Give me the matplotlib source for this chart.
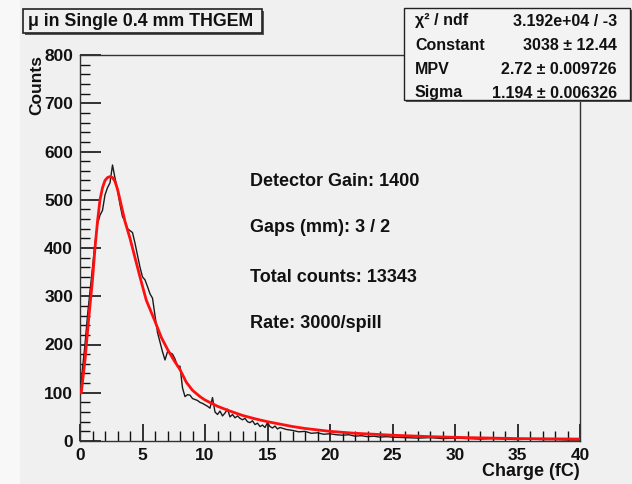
import matplotlib
matplotlib.use("Agg")
import matplotlib.pyplot as plt
from matplotlib.patches import Rectangle
from matplotlib.ticker import MultipleLocator

# ---------------- data ----------------
hist_x = [0.1, 0.2, 0.4, 0.6, 0.8, 1.0, 1.2, 1.4, 1.6, 1.8, 2.0, 2.2, 2.4, 2.6, 2.8,
          3.0, 3.2, 3.4, 3.6, 3.8, 4.0, 4.2, 4.4, 4.6, 4.8, 5.0, 5.2, 5.4, 5.6, 5.8,
          6.0, 6.2, 6.4, 6.6, 6.8, 7.0, 7.2, 7.4, 7.6, 7.8, 8.0, 8.2, 8.4, 8.6, 8.8,
          9.0, 9.2, 9.4, 9.6, 9.8, 10.0, 10.2, 10.4, 10.6, 10.8, 11.0, 11.2, 11.4,
          11.6, 11.8, 12.0, 12.2, 12.4, 12.6, 12.8, 13.0, 13.2, 13.4, 13.6, 13.8,
          14.0, 14.2, 14.4, 14.6, 14.8, 15.0, 15.2, 15.4, 15.6, 15.8, 16.0, 16.5,
          17.0, 17.5, 18.0, 18.5, 19.0, 19.5, 20.0, 20.5, 21.0, 21.5, 22.0, 22.5,
          23.0, 23.5, 24.0, 24.5, 25.0, 26.0, 27.0, 28.0, 29.0, 30.0, 31.0, 32.0,
          33.0, 34.0, 35.0, 36.0, 37.0, 38.0, 39.0, 40.0]
hist_y = [120, 150, 200, 260, 310, 360, 410, 450, 468, 478, 510, 525, 535, 572, 545,
          520, 490, 465, 455, 440, 436, 432, 410, 385, 360, 340, 334, 320, 305, 296,
          260, 225, 205, 185, 168, 185, 183, 180, 170, 155, 155, 110, 92, 96, 95,
          88, 86, 84, 80, 78, 75, 72, 68, 90, 60, 55, 62, 52,
          58, 66, 50, 55, 48, 52, 47, 44, 47, 40, 38, 42,
          34, 37, 30, 33, 28, 38, 30, 27, 31, 25, 28, 24,
          22, 19, 20, 16, 17, 14, 15, 13, 12, 13, 10, 11,
          9, 10, 8, 9, 8, 7, 6, 7, 5, 6, 5, 4,
          5, 4, 3, 4, 3, 3, 2, 2]

fit_x = [0.1, 0.4, 0.7, 1.0, 1.2, 1.4, 1.6, 1.8, 2.0, 2.2, 2.4, 2.6, 2.8, 3.0, 3.2,
         3.6, 4.0, 4.4, 4.8, 5.3, 6.0, 6.5, 7.0, 7.5, 8.0, 8.5, 9.0, 9.6, 10.0, 11.0,
         12.0, 13.0, 14.0, 15.0, 16.0, 17.0, 18.0, 19.0, 20.0, 22.0, 25.0, 28.0,
         31.0, 35.0, 40.0]
fit_y = [100, 168, 255, 334, 400, 455, 500, 525, 540, 546, 548, 546, 538, 522, 500,
         455, 420, 380, 340, 292, 248, 215, 190, 168, 148, 122, 105, 92, 85, 72,
         62, 53, 46, 40, 35, 30, 26, 23, 20, 16, 12, 9,
         7, 5, 4]

title_text = "\u03bc in Single 0.4 mm THGEM"
x_label = "Charge (fC)"
y_label = "Counts"
info_lines = ["Detector Gain: 1400", "Gaps (mm): 3 / 2",
              "Total counts: 13343", "Rate: 3000/spill"]
stat_names = ["\u03c7\u00b2 / ndf", "Constant", "MPV", "Sigma"]
stat_values = ["3.192e+04 / -3", "3038 \u00b1 12.44", "2.72 \u00b1 0.009726",
               "1.194 \u00b1 0.006326"]

# ---------------- figure ----------------
W, H = 632, 484
BG = "#f0f0f0"
plt.rcParams["font.family"] = ["Liberation Sans", "DejaVu Sans"]
plt.rcParams["font.weight"] = "bold"

fig = plt.figure(figsize=(W / 100, H / 100), dpi=100, facecolor=BG)


def fx(px):
    return px / W


def fy(py):
    return 1 - py / H


# lighter strip on the far left
fig.patches.append(Rectangle((0, 0), fx(20), 1, transform=fig.transFigure,
                             facecolor="#f8f8f8", edgecolor="none", zorder=0))

ax = fig.add_axes([fx(80), fy(441), fx(580) - fx(80), fy(55) - fy(441)])
ax.set_facecolor(BG)
ax.plot(hist_x, hist_y, color="#1a1a1a", lw=1.0, zorder=3)
ax.plot(fit_x, fit_y, color="#ff1010", lw=2.0, zorder=4)
ax.set_xlim(0, 40)
ax.set_ylim(0, 800)

ax.xaxis.set_major_locator(MultipleLocator(5))
ax.xaxis.set_minor_locator(MultipleLocator(1))
ax.yaxis.set_major_locator(MultipleLocator(100))
ax.yaxis.set_minor_locator(MultipleLocator(20))
ax.tick_params(axis="x", which="major", direction="in", length=12, width=1.2,
               labelsize=12.5, pad=5, colors="#111111")
ax.tick_params(axis="x", which="minor", direction="in", length=7, width=1.0,
               colors="#111111")
ax.tick_params(axis="y", which="major", direction="in", length=15, width=1.2,
               labelsize=12.5, pad=5, colors="#111111")
ax.tick_params(axis="y", which="minor", direction="in", length=7, width=1.0,
               colors="#111111")
for lab in ax.get_xticklabels() + ax.get_yticklabels():
    lab.set_fontweight("bold")
for s in ax.spines.values():
    s.set_color("#333333")
    s.set_linewidth(1.0)

# axis titles (ROOT style: at the ends)
fig.text(fx(580), fy(471), x_label, ha="right", va="center", fontsize=13,
         fontweight="bold", color="#111111")
fig.text(fx(37), fy(55), y_label, ha="center", va="top", rotation=90,
         fontsize=12.5, fontweight="bold", color="#111111")

# info text lines
for txt, py in zip(info_lines, [182, 228, 277, 323]):
    fig.text(fx(250), fy(py), txt, ha="left", va="center", fontsize=13,
             fontweight="bold", color="#111111")

# title box
fig.patches.append(Rectangle((fx(25), fy(35)), fx(262) - fx(23), fy(9) - fy(33),
                             transform=fig.transFigure, facecolor="#555555",
                             edgecolor="none", zorder=5))
fig.patches.append(Rectangle((fx(23), fy(33)), fx(262) - fx(23), fy(9) - fy(33),
                             transform=fig.transFigure, facecolor=BG,
                             edgecolor="#222222", lw=1.2, zorder=6))
fig.text(fx(28), fy(21.5), title_text, ha="left", va="center", fontsize=12.8,
         fontweight="bold", color="#111111", zorder=7)

# stats box
fig.patches.append(Rectangle((fx(406), fy(102)), fx(631) - fx(404), fy(8) - fy(100),
                             transform=fig.transFigure, facecolor="#555555",
                             edgecolor="none", zorder=5))
fig.patches.append(Rectangle((fx(404), fy(100)), fx(630) - fx(404), fy(8) - fy(100),
                             transform=fig.transFigure, facecolor="#f3f3f3",
                             edgecolor="#222222", lw=1.0, zorder=6))
for name, val, py in zip(stat_names, stat_values, [21, 46, 70, 93]):
    fig.text(fx(415), fy(py), name, ha="left", va="center", fontsize=11.5,
             fontweight="bold", color="#111111", zorder=7)
    fig.text(fx(617), fy(py), val, ha="right", va="center", fontsize=11.5,
             fontweight="bold", color="#111111", zorder=7)

fig.savefig("out.png", dpi=100, facecolor=BG)
